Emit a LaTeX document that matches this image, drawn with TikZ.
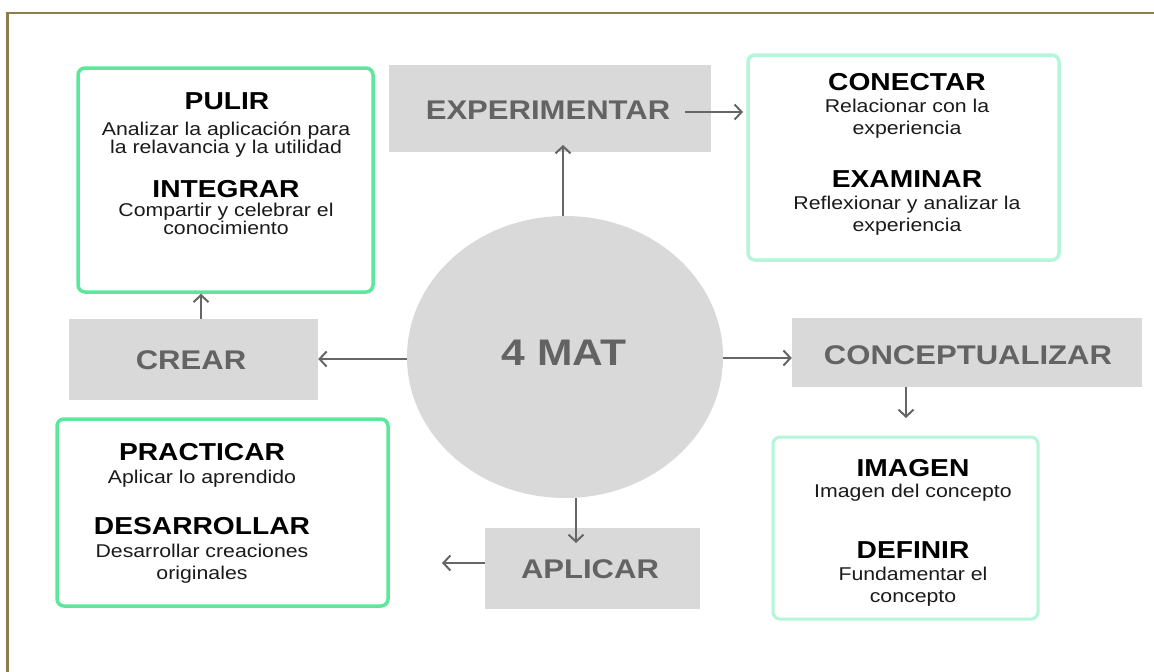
\documentclass[tikz,border=0pt]{standalone}
\usepackage{fontspec}
\setmainfont{Liberation Sans}[FakeStretch=1.15]
\usetikzlibrary{arrows.meta,shapes.geometric}
\definecolor{frameolive}{HTML}{8C7E48}
\definecolor{stagegray}{HTML}{D9D9D9}
\definecolor{labelgray}{HTML}{636363}
\definecolor{arrowgray}{HTML}{666666}
\definecolor{brightgreen}{HTML}{5BE89C}
\definecolor{mintgreen}{HTML}{B5F5D8}
\definecolor{paletext}{HTML}{1A1A1A}
\tikzset{
  stage/.style={fill=stagegray, draw=none, inner sep=0pt},
  stagelabel/.style={text=labelgray, font=\fontsize{27}{30}\selectfont\bfseries, inner sep=0pt},
  greenbox/.style={draw=brightgreen, line width=3.5pt, rounded corners=7pt, fill=white},
  mintbox/.style={draw=mintgreen, line width=3.5pt, rounded corners=7pt, fill=white},
  headline/.style={text=black, font=\fontsize{24.5}{27}\selectfont\bfseries, inner sep=0pt},
  bodytext/.style={text=paletext, font=\fontsize{18.5}{#1}\selectfont, align=center, inner sep=0pt},
  bodytext/.default=22,
  flow/.style={draw=arrowgray, line width=2pt, -{Straight Barb[length=7pt,width=15pt,line width=2pt]}}
}
\begin{document}
\begin{tikzpicture}[x=1pt,y=-1pt]
\useasboundingbox (0,0) rectangle (1154,672);
% page frame
\draw[frameolive, line width=2.2pt] (7.5,700) -- (7.5,13) -- (1170,13);

% centre
\node[ellipse, fill=stagegray, minimum width=316pt, minimum height=282pt, inner sep=0pt] (mat) at (565,357) {};
\node[text=labelgray, font=\fontsize{37}{40}\selectfont\bfseries, inner sep=0pt] (matlabel) at (564,353) {4 MAT};

% the four stages
\node[stage, minimum width=322pt, minimum height=87pt] (exp) at (550,108.5) {};
\node[stagelabel] (explabel) at (548,110) {EXPERIMENTAR};
\node[stage, minimum width=350pt, minimum height=69pt] (con) at (967,352.5) {};
\node[stagelabel] (conlabel) at (968,355) {CONCEPTUALIZAR};
\node[stage, minimum width=215pt, minimum height=81pt] (apl) at (592.5,568.5) {};
\node[stagelabel] (apllabel) at (590,569) {APLICAR};
\node[stage, minimum width=249pt, minimum height=81pt] (cre) at (193.5,359.5) {};
\node[stagelabel] (crelabel) at (191,360) {CREAR};

% detail boxes
\node[greenbox, minimum width=295pt, minimum height=224pt] (pulbox) at (225.5,180) {};
\node[headline] (pul) at (227,101) {PULIR};
\node[bodytext=18] (pultxt) at (226,140) {Analizar la aplicación para\\la relavancia y la utilidad};
\node[headline] (int) at (226,189) {INTEGRAR};
\node[bodytext=18] (inttxt) at (226,219) {Compartir y celebrar el\\conocimiento};

\node[mintbox, minimum width=311pt, minimum height=205pt] (conbox) at (903.5,157.5) {};
\node[headline] (cnc) at (907,82) {CONECTAR};
\node[bodytext] (cnctxt) at (907,119) {Relacionar con la\\experiencia};
\node[headline] (exa) at (907,179) {EXAMINAR};
\node[bodytext] (exatxt) at (907,216) {Reflexionar y analizar la\\experiencia};

\node[mintbox, line width=3pt, minimum width=265pt, minimum height=182pt] (imgbox) at (905.5,528) {};
\node[headline] (img) at (913,468) {IMAGEN};
\node[bodytext] (imgtxt) at (913,493) {Imagen del concepto};
\node[headline] (def) at (913,550) {DEFINIR};
\node[bodytext] (deftxt) at (913,587) {Fundamentar el\\concepto};

\node[greenbox, minimum width=331pt, minimum height=187pt] (prabox) at (222.5,512.5) {};
\node[headline] (pra) at (202,452) {PRACTICAR};
\node[bodytext] (pratxt) at (202,479) {Aplicar lo aprendido};
\node[headline] (des) at (202,526) {DESARROLLAR};
\node[bodytext] (destxt) at (202,563.5) {Desarrollar creaciones\\originales};

% arrows
\coordinate (upend) at (563,145);
\draw[flow] (mat.north -| upend) -- (upend);
\coordinate (expout) at (685,112);
\coordinate (expin) at (743,112);
\draw[flow] (expout) -- (expin);
\draw[flow] (mat.east |- 0,358) -- (con.west |- 0,358);
\coordinate (condown) at (906,418);
\draw[flow] (con.south -| condown) -- (condown);
\coordinate (dnend) at (576,543);
\draw[flow] (mat.south -| dnend) -- (dnend);
\coordinate (aplout) at (442,563);
\draw[flow] (apl.west |- aplout) -- (aplout);
\draw[flow] (mat.west |- 0,359) -- (cre.east |- 0,359);
\draw[flow] (cre.north -| 201,0) -- (pulbox.south -| 201,0);
\end{tikzpicture}
\end{document}
